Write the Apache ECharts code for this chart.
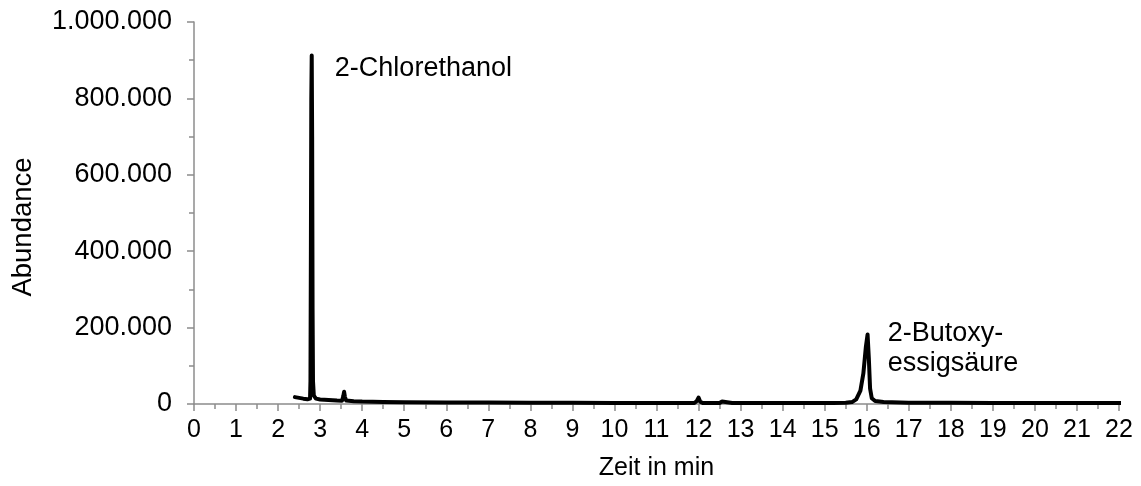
<!DOCTYPE html>
<html>
<head>
<meta charset="utf-8">
<script src="https://cdn.jsdelivr.net/npm/echarts@6/dist/echarts.min.js"></script>
<style>
  html, body { margin: 0; padding: 0; background: #fff; }
  #chart { width: 1141px; height: 486px; }
</style>
</head>
<body>
<div id="chart"></div>
<script>
// Retention time (min) of each sampled point of the chromatogram
const timeMin = [
  2.40, 2.50, 2.60, 2.70, 2.74, 2.76, 2.77, 2.78, 2.79, 2.80, 2.81, 2.82, 2.83, 2.85, 2.90,
  3.00, 3.20, 3.40, 3.52, 3.55, 3.57, 3.59, 3.62, 3.80, 4.00, 4.50, 5.00, 6.00, 7.00, 8.00,
  9.00, 10.00, 11.00, 11.90, 11.96, 12.00, 12.04, 12.10, 12.50, 12.56, 12.60, 12.80, 12.84, 12.88,
  13.50, 14.50, 15.20, 15.50, 15.65, 15.75, 15.85, 15.92, 15.98, 16.02, 16.05, 16.08, 16.12,
  16.20, 16.40, 17.00, 18.00, 19.00, 20.00, 21.00, 22.20
];
// Detector abundance at each retention time
const abundance = [
  18000, 16000, 14000, 12500, 12000, 14000, 60000, 400000, 800000, 912000, 700000, 250000, 60000, 22000, 14000,
  12000, 10500, 9000, 8500, 20000, 32000, 18000, 9000, 7500, 6500, 5500, 4800, 4000, 3600, 3300,
  3000, 2800, 2600, 2500, 8000, 17000, 6000, 2600, 2500, 6500, 3000, 2500, 6000, 2600,
  2400, 2300, 2400, 3000, 5000, 12000, 35000, 80000, 150000, 182000, 120000, 40000, 15000,
  8000, 5000, 3500, 3000, 2700, 2500, 2400, 2400
];
// Peak annotations: text and the (time, abundance) point where each text starts
const peakNames = ['2-Chlorethanol', '2-Butoxy-\nessigsäure'];
const peakLabelAt = [[3.35, 877000], [16.5, 145000]];

const FONT = '"Liberation Sans", Arial, Helvetica, sans-serif';
const AXIS_GREY = '#8c8c8c';

function thousands(v) {
  return String(v).replace(/\B(?=(\d{3})+(?!\d))/g, '.');
}

const chart = echarts.init(document.getElementById('chart'), null, { renderer: 'canvas' });

chart.setOption({
  animation: false,
  backgroundColor: '#ffffff',
  textStyle: { fontFamily: FONT },
  grid: { left: 194, right: 22, top: 22, bottom: 82, containLabel: false },
  xAxis: {
    type: 'value',
    min: 0,
    max: 22,
    interval: 1,
    name: 'Zeit in min',
    nameLocation: 'middle',
    nameGap: 52,
    nameTextStyle: { color: '#000', fontSize: 25, fontFamily: FONT },
    axisLine: { show: true, onZero: false, lineStyle: { color: AXIS_GREY, width: 1.5 } },
    axisTick: { show: true, length: 7, lineStyle: { color: AXIS_GREY, width: 1.5 } },
    minorTick: { show: true, splitNumber: 2, length: 5, lineStyle: { color: AXIS_GREY, width: 1.5 } },
    axisLabel: { color: '#000', fontSize: 25, fontFamily: FONT, margin: 14 },
    splitLine: { show: false },
    minorSplitLine: { show: false }
  },
  yAxis: {
    type: 'value',
    min: 0,
    max: 1000000,
    interval: 200000,
    name: 'Abundance',
    nameLocation: 'middle',
    nameRotate: 90,
    nameGap: 157,
    // right padding (along the rotated text) moves the title a little below the axis centre
    nameTextStyle: { color: '#000', fontSize: 27.5, fontFamily: FONT, padding: [0, 28, 0, 0] },
    axisLine: { show: true, lineStyle: { color: AXIS_GREY, width: 1.5 } },
    axisTick: { show: true, length: 7, lineStyle: { color: AXIS_GREY, width: 1.5 } },
    minorTick: { show: true, splitNumber: 2, length: 5, lineStyle: { color: AXIS_GREY, width: 1.5 } },
    axisLabel: { color: '#000', fontSize: 27, fontFamily: FONT, margin: 22, formatter: thousands },
    splitLine: { show: false },
    minorSplitLine: { show: false }
  },
  series: [{
    type: 'line',
    data: timeMin.map((t, i) => [t, abundance[i]]),
    showSymbol: false,
    clip: false,
    lineStyle: { color: '#000', width: 4, cap: 'round', join: 'round' },
    markPoint: {
      symbol: 'circle',
      symbolSize: 0,
      silent: true,
      data: peakNames.map((name, i) => ({
        coord: peakLabelAt[i],
        label: {
          show: true,
          position: 'inside',
          align: 'left',
          verticalAlign: 'middle',
          formatter: name,
          color: '#000',
          fontSize: 27,
          lineHeight: 30,
          fontFamily: FONT
        }
      }))
    }
  }]
});
</script>
</body>
</html>
